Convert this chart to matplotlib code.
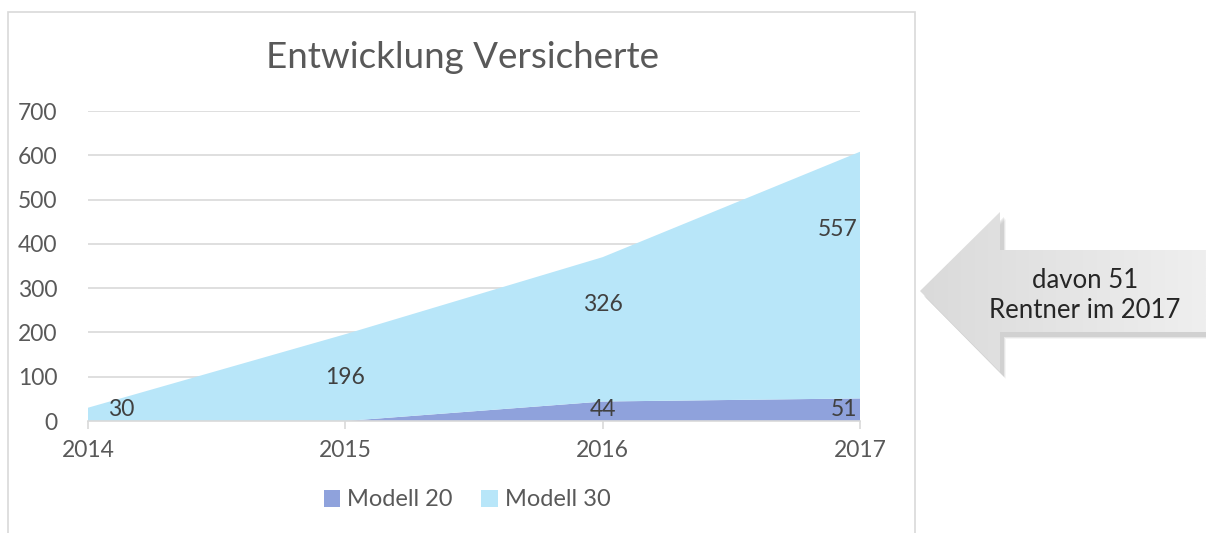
import matplotlib
matplotlib.use("Agg")
import matplotlib.pyplot as plt
from matplotlib.patches import Polygon, Rectangle
import numpy as np

# Daten
jahre = ["2014", "2015", "2016", "2017"]
modell20 = [0, 0, 44, 51]
modell30 = [30, 196, 326, 557]
# Position der Beschriftungen (wie in Excel, geschaetzt)
lab20_y = [None, None, 25, 25]
lab30_y = [25, 98, 262, 433]

plt.rcParams['font.family'] = ['Lato', 'DejaVu Sans']

W, H = 1206, 533
fig = plt.figure(figsize=(W / 100, H / 100), dpi=100)

def fx(px):
    return px / W

def fy(py):
    return 1 - py / H

# Rahmen um das Diagramm
fig.patches.append(Rectangle((fx(8), fy(560)), fx(915) - fx(8), fy(12) - fy(560),
                             transform=fig.transFigure, fill=False,
                             edgecolor="#d9d9d9", linewidth=1.2))

ax = fig.add_axes([fx(88), fy(421), fx(860) - fx(88), fy(111) - fy(421)])
x = np.arange(len(jahre))
ax.stackplot(x, modell20, modell30, colors=["#8fa2dc", "#b8e6f9"],
             labels=["Modell 20", "Modell 30"], linewidth=0)

ax.set_xlim(0, len(jahre) - 1)
ax.set_ylim(0, 700)
ax.set_yticks(range(0, 701, 100))
ax.set_xticks(x)
ax.set_xticklabels(jahre)
ax.yaxis.grid(True, color="#d9d9d9", linewidth=1.2)
ax.set_axisbelow(True)
for s in ["top", "right", "left"]:
    ax.spines[s].set_visible(False)
ax.spines["bottom"].set_color("#d9d9d9")
ax.spines["bottom"].set_linewidth(1.2)
ax.spines["bottom"].set_zorder(5)
ax.tick_params(axis="y", length=0, pad=22, labelsize=16.5, labelcolor="#595959")
ax.tick_params(axis="x", length=6, color="#d9d9d9", width=1.2, pad=8,
               labelsize=16.5, labelcolor="#595959")
ax.set_facecolor("none")

for i in range(len(jahre)):
    if lab20_y[i] is not None:
        ax.text(i, lab20_y[i], str(modell20[i]), ha="center", va="center",
                fontsize=16.5, color="#404040", zorder=6)
for i in range(len(jahre)):
    xi = i
    if i == 0:
        xi = 0.13
    ax.text(xi, lab30_y[i], str(modell30[i]), ha="center", va="center",
            fontsize=16.5, color="#404040", zorder=6)
# Beschriftungen am Rand leicht nach innen schieben
for t in ax.texts:
    if t.get_position()[0] == len(jahre) - 1:
        t.set_ha("right")
        t.set_x(len(jahre) - 1 - 0.01)

fig.text(fx(462), fy(57), "Entwicklung Versicherte", ha="center", va="center",
         fontsize=26.5, color="#595959")

ax.legend(loc="center", bbox_to_anchor=(fx(467), fy(500)), bbox_transform=fig.transFigure,
          ncol=2, frameon=False, fontsize=17, labelcolor="#595959",
          handlelength=0.7, handleheight=0.7, handletextpad=0.3, columnspacing=1.2)

# Pfeil rechts
pts = [(920, 291), (1000, 212), (1000, 250), (1210, 250), (1210, 332),
       (1000, 332), (1000, 372)]
for k, a in enumerate([0.04, 0.06, 0.09]):
    off = 3 - k
    sh = [(fx(px + 3 + off), fy(py + 4 + off)) for px, py in pts]
    fig.patches.append(Polygon(sh, closed=True, transform=fig.transFigure,
                               facecolor="black", alpha=a, edgecolor="none",
                               zorder=-2))
grad = np.linspace(0, 1, 256).reshape(1, -1)
gax = fig.add_axes([0, 0, 1, 1], zorder=-1)
gax.set_axis_off()
gax.set_xlim(0, 1)
gax.set_ylim(0, 1)
img = gax.imshow(grad, extent=[fx(920), fx(1206), fy(372), fy(212)],
                 cmap=matplotlib.colors.LinearSegmentedColormap.from_list(
                     "g", ["#dadada", "#efefef"]), aspect="auto")
clip = Polygon([(fx(px), fy(py)) for px, py in pts], closed=True,
               transform=fig.transFigure, facecolor="none", edgecolor="none")
gax.add_patch(clip)
img.set_clip_path(clip)

fig.text(fx(1085), fy(295), "davon 51\nRentner im 2017", ha="center", va="center",
         fontsize=18.5, color="#262626", linespacing=1.25)

fig.savefig("out.png", dpi=100)
